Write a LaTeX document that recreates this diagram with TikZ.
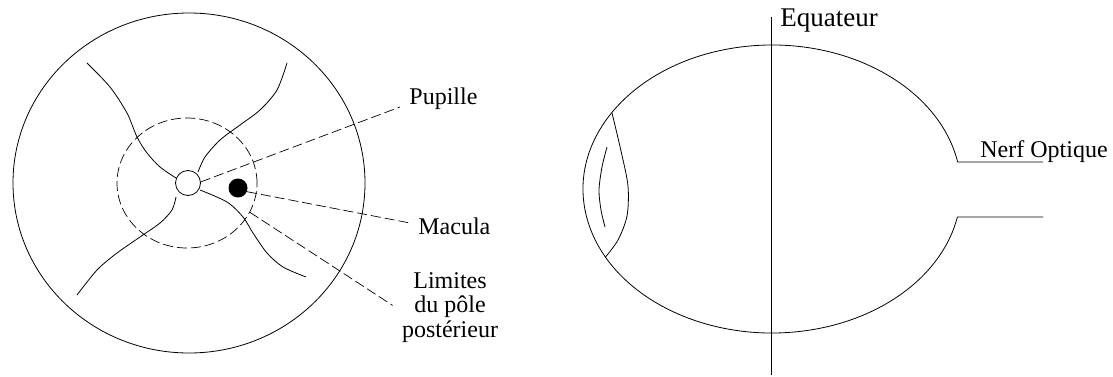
\documentclass[tikz,border=0pt]{standalone}
\usepackage{fontspec}
\setmainfont{Liberation Serif}
\usetikzlibrary{shapes.geometric}
\begin{document}
\begin{tikzpicture}[x=1pt,y=1pt,
  line width=0.8pt,
  lbl/.style={inner sep=0pt, font=\fontsize{24}{24.5}\selectfont},
  biglbl/.style={inner sep=0pt, font=\fontsize{27}{28}\selectfont},
  leader/.style={line width=0.7pt, dash pattern=on 10pt off 4pt},
  polestyle/.style={ellipse, draw, line width=0.7pt, dash pattern=on 10pt off 4pt,
    minimum width=140pt, minimum height=130pt, inner sep=0pt},
  vessel/.style={line width=0.8pt}]
\useasboundingbox (0,0) rectangle (1113,376);

% ---- Fundus (front view) ----
\node[ellipse, draw, minimum width=352pt, minimum height=340pt, inner sep=0pt] (fundus) at (189,193) {};

% retinal vessels leaving the optic disc
\draw[vessel] plot[smooth] coordinates {(87,313) (110,289) (127,263) (137,239) (147,223) (160,209) (176,198)};
\draw[vessel] plot[smooth] coordinates {(287,313) (277,286) (260,266) (240,251) (220,236) (205,219) (198,204)};
\draw[vessel] plot[smooth] coordinates {(77,81) (97,106) (117,123) (140,139) (160,153) (172,166) (176,179)};
\draw[vessel] plot[smooth] coordinates {(200,186) (227,174) (243,159) (253,143) (267,123) (283,109) (306,99)};

% posterior pole limit, optic disc and macula
\node[polestyle] (pole) at (187,193) {};
\node[circle, draw, fill=white, minimum size=25pt, inner sep=0pt] (disc) at (188,193) {};
\node[circle, fill=black, minimum size=19pt, inner sep=0pt] (macula) at (238,188) {};

% labels
\node[lbl, anchor=base west] (pupille) at (409,272) {Pupille};
\node[lbl, anchor=base west] (maculalbl) at (418,142) {Macula};
\node[lbl, anchor=north, align=center] (limites) at (450,104) {Limites\\du pôle\\postérieur};

\draw[leader] (disc.5) -- ([xshift=-9pt,yshift=-3pt]pupille.base west);
\draw[leader] (macula.-22) -- ([xshift=-8pt,yshift=11pt]maculalbl.base west);
\draw[leader] (pole.-25) -- ([xshift=-9pt,yshift=2pt]limites.west);

% ---- Eyeball (side view) ----
\coordinate (nervetop) at (957.65,213.98);
\coordinate (nervebot) at (957.4,159.03);
\coordinate (nervetopend) at (1043,214);
\coordinate (nervebotend) at (1043,159);
\draw (nervetop) arc[start angle=10.8, end angle=348.8, x radius=189, y radius=144];
\draw (nervetop) -- (nervetopend);
\draw (nervebot) -- (nervebotend);

% cornea and lens
\draw plot[smooth] coordinates {(612,263) (621,225) (628,190) (627,160) (618,136) (605.5,119)};
\draw plot[smooth] coordinates {(607,229) (602,209) (599,186) (601,166) (605,149)};

% equator
\coordinate (eqtop) at (771,359);
\coordinate (eqbot) at (771,1);
\draw (eqtop) -- (eqbot);
\node[biglbl, anchor=base west] (equateur) at (780,349) {Equateur};
\node[lbl, anchor=base west] (nerf) at (980,219) {Nerf Optique};
\end{tikzpicture}
\end{document}
